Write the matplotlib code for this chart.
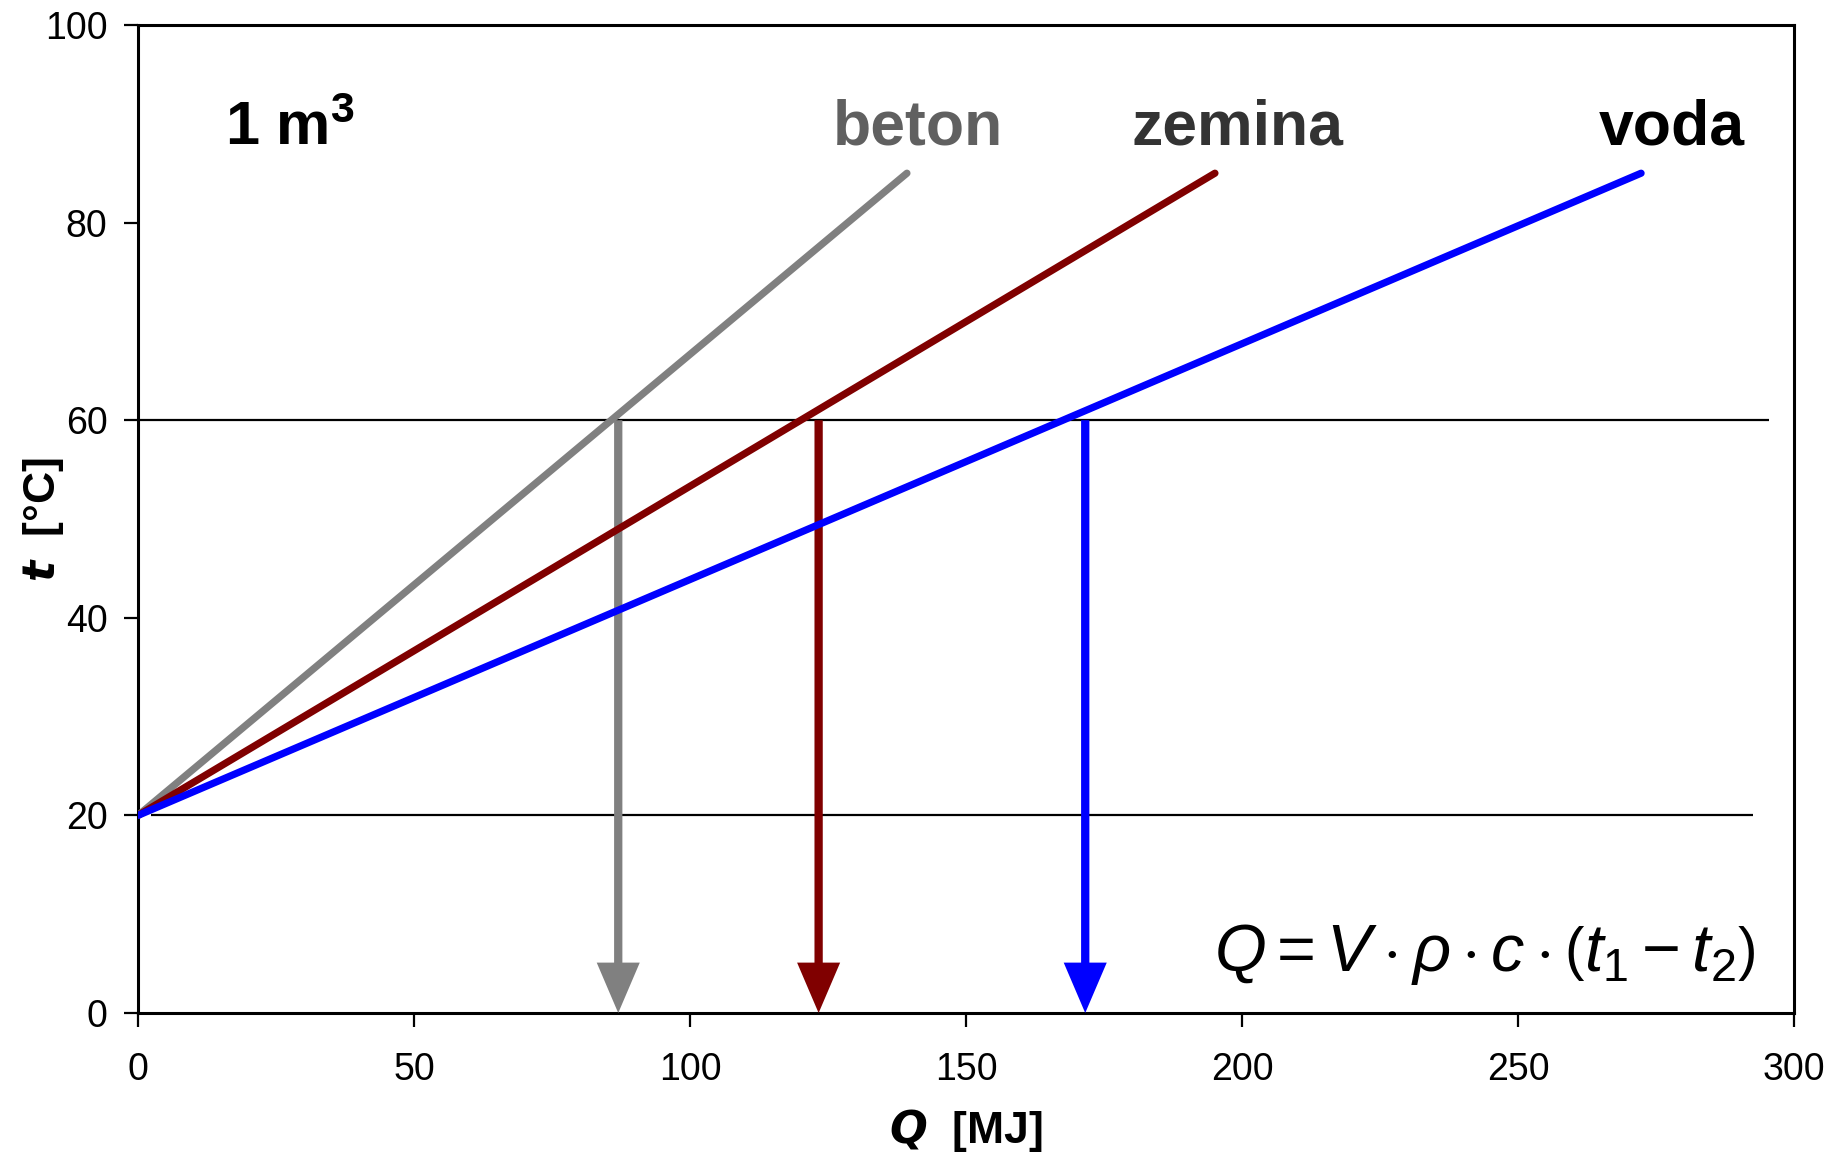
import matplotlib
matplotlib.use("Agg")
import matplotlib.pyplot as plt

# ---- data ----
materials = ["beton", "zemina", "voda"]
line_colors = ["#808080", "#800000", "#0000FF"]
text_colors = ["#606060", "#333333", "#000000"]
t_start = 20
t_end = 85
q_end = [139.3, 195.1, 272.3]          # Q [MJ] at t_end
q_arrow = [87.0, 123.3, 171.6]         # Q [MJ] at t = 60 (arrows)
t_arrow = 60
label_x = [141.3, 199.2, 277.9]
label_y = 87.9
hline_t = [20, 60]
hline_from = [2.3, 0.0]
hline_to = [292.6, 295.5]
xticks = [0, 50, 100, 150, 200, 250, 300]
yticks = [0, 20, 40, 60, 80, 100]

plt.rcParams['font.family'] = ['Liberation Sans', 'DejaVu Sans']
plt.rcParams['mathtext.fontset'] = 'custom'
plt.rcParams['mathtext.rm'] = 'Liberation Sans'
plt.rcParams['mathtext.it'] = 'Liberation Sans:italic'
plt.rcParams['mathtext.bf'] = 'Liberation Sans:bold'

fig = plt.figure(figsize=(18.36, 11.57), dpi=100)
ax = fig.add_axes([138/1836, 1-1013/1157, (1794-138)/1836, (1013-25)/1157])
ax.set_xlim(0, 300)
ax.set_ylim(0, 100)

for sp in ax.spines.values():
    sp.set_linewidth(2.2)

ax.set_xticks(xticks)
ax.set_yticks(yticks)
ax.tick_params(axis='both', direction='out', length=10, width=1.6, labelsize=27)
ax.tick_params(axis='x', pad=18)
ax.tick_params(axis='y', pad=12)

# horizontal reference lines
ax.hlines(hline_t, hline_from, hline_to, colors='black', linewidth=1.6, zorder=2)

# arrows (drawn before lines)
for q, c in zip(q_arrow, line_colors):
    ax.arrow(q, t_arrow, 0, -t_arrow, width=1.5, head_width=7.8, head_length=5.1,
             length_includes_head=True, color=c, lw=0, zorder=3)

# material lines
for q, c in zip(q_end, line_colors):
    ax.plot([0, q], [t_start, t_end], color=c, linewidth=5.2,
            solid_capstyle='round', zorder=4)

# labels
for name, x, tc in zip(materials, label_x, text_colors):
    ax.text(x, label_y, name, ha='center', va='baseline', fontsize=45,
            fontweight='bold', color=tc)
ax.text(15.8, label_y, "1 m$^\\mathbf{3}$", ha='left', va='baseline', fontsize=44,
        fontweight='bold', color='black')

ax.text(293, 4.3, r"$Q = V \cdot \rho \cdot c \cdot \left(t_1 - t_2\right)$",
        ha='right', va='baseline', fontsize=48, color='black')

ax.set_xlabel(r"$\boldsymbol{Q}$  [MJ]", fontsize=32, fontweight='bold')
ax.set_ylabel(r"$\boldsymbol{t}$  [°C]", fontsize=32, fontweight='bold')
ax.xaxis.set_label_coords(0.5, (1013 - 1131) / 988)
ax.yaxis.set_label_coords((44 - 138) / 1656, 0.5)
ax.xaxis.label.set_va('center')
ax.yaxis.label.set_va('center')

fig.savefig("out.png", dpi=100)
